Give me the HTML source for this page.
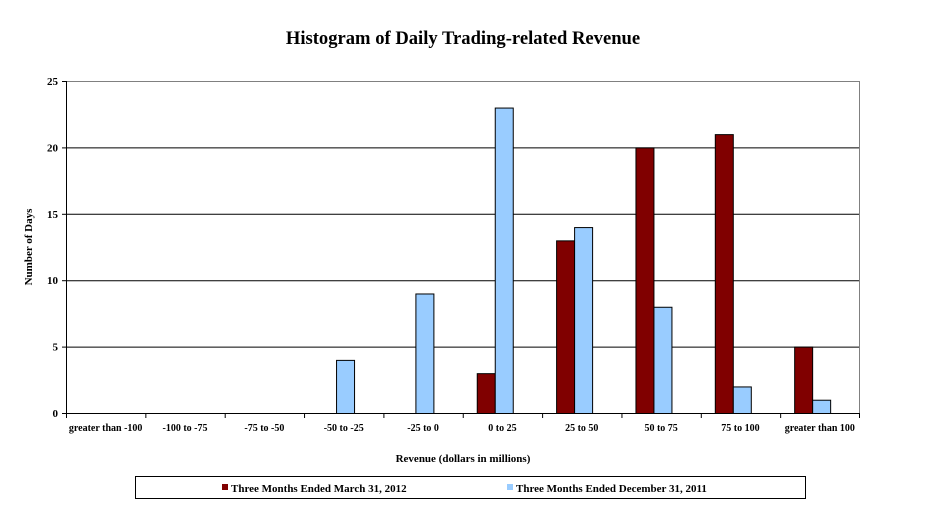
<!DOCTYPE html>
<html><head><meta charset="utf-8"><style>
body{margin:0;background:#fff;}
svg text{font-family:"Liberation Serif",serif;font-weight:bold;fill:#000;}
</style></head><body>
<svg width="935" height="511">
<text x="463" y="44" font-size="18.6" text-anchor="middle">Histogram of Daily Trading-related Revenue</text>
<g id="grid"></g>
<g id="bars"></g>
<g id="axes"></g>
<text x="463" y="462" font-size="11" text-anchor="middle">Revenue (dollars in millions)</text>
<text transform="translate(32,247) rotate(-90)" font-size="11" text-anchor="middle">Number of Days</text>
<g>
<rect x="135.5" y="476.5" width="670" height="22" fill="#fff" stroke="#000"/>
<rect x="222" y="484" width="6" height="6" fill="#800000"/>
<text x="231" y="492" font-size="11">Three Months Ended March 31, 2012</text>
<rect x="507" y="484" width="6" height="6" fill="#99ccff"/>
<text x="516" y="492" font-size="11">Three Months Ended December 31, 2011</text>
</g>
</svg>
<script>
const categories=["greater than -100","-100 to -75","-75 to -50","-50 to -25","-25 to 0","0 to 25","25 to 50","50 to 75","75 to 100","greater than 100"];
const series2012=[0,0,0,0,0,3,13,20,21,5];
const series2011=[0,0,0,4,9,23,14,8,2,1];
const yTicks=[0,5,10,15,20,25];
const NS="http://www.w3.org/2000/svg";
const X0=66,X1=859.5,Y0=413,Y1=81,YMAX=25;
const cw=(X1-X0)/categories.length;
function y(v){return Y0-(Y0-Y1)*v/YMAX;}
function xc(i){return X0+i*cw;}
function mk(tag,attrs,parent){const e=document.createElementNS(NS,tag);for(const k in attrs)e.setAttribute(k,attrs[k]);document.getElementById(parent).appendChild(e);return e;}
yTicks.forEach(t=>{
 if(t>0){const l=mk('line',{x1:X0,x2:X1,y1:y(t)+.5,y2:y(t)+.5,stroke:'#000','stroke-width':1},'grid');
 
 }
 const tk=mk('line',{x1:X0-4,x2:X0,y1:y(t)+.5,y2:y(t)+.5,stroke:'#000'},'axes');
 const tx=mk('text',{x:X0-8,y:y(t)+4,'font-size':11,'text-anchor':'end'},'axes');
 tx.textContent=t;
 
 
});
const plotBox=mk('rect',{x:X0+.5,y:Y1+.5,width:X1-X0-.5,height:Y0-Y1,fill:'none',stroke:'#808080'},'grid');
categories.forEach((c,i)=>{
 const bx=xc(i)+14;
 [[series2012[i],'#800000','2012',0],[series2011[i],'#99ccff','2011',18]].forEach(([v,col,nm,off])=>{
  if(v>0){const r=mk('rect',{x:bx+off+.5,y:y(v)+.5,width:18,height:Y0-y(v),fill:col,stroke:'#000','stroke-width':1},'bars');
  
  }
 });
 const tk=mk('line',{x1:xc(i)+.5,x2:xc(i)+.5,y1:Y0,y2:Y0+5,stroke:'#000'},'axes');
 const tx=mk('text',{x:xc(i)+cw/2,y:Y0+18,'font-size':10,'text-anchor':'middle'},'axes');
 tx.textContent=c;
 
 
});
mk('line',{x1:X1,x2:X1,y1:Y0,y2:Y0+5,stroke:'#000'},'axes');
mk('line',{x1:X0+.5,x2:X0+.5,y1:Y1,y2:Y0+.5,stroke:'#000'},'axes');
mk('line',{x1:X0,x2:X1,y1:Y0+.5,y2:Y0+.5,stroke:'#000'},'axes');
</script>
</body></html>
